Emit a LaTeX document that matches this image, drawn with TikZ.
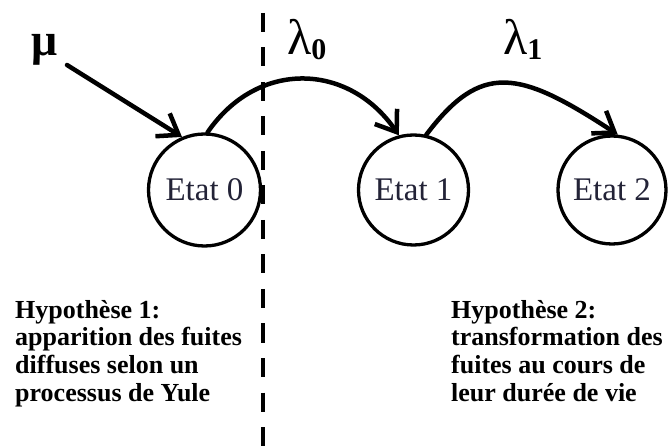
\documentclass[tikz,border=0pt]{standalone}
\usepackage{fontspec}
\setmainfont{Liberation Serif}
\usetikzlibrary{arrows.meta}
\definecolor{etat}{RGB}{35,35,55}
\begin{document}
\begin{tikzpicture}[x=1pt,y=-1pt,
  state/.style={circle,draw,line width=3.3pt,inner sep=0pt,
    font=\fontsize{33}{36}\selectfont,text=etat},
  arr/.style={line width=4.5pt,line cap=round,-{Straight Barb[length=19pt,width=27pt]}},
  hyp/.style={font=\bfseries\fontsize{26}{27.7}\selectfont,align=left,inner sep=0pt,anchor=base west},
  greek/.style={font=\fontsize{50}{50}\selectfont,inner sep=0pt,anchor=base west},
  sepline/.style={line width=4.5pt,dash pattern=on 19pt off 15.5pt}]
\useasboundingbox (0,0) rectangle (672,446);
\node[state,minimum size=112pt] (c0) at (204.5,190) {Etat 0};
\node[state,minimum size=110pt] (c1) at (413.5,190) {Etat 1};
\node[state,minimum size=108pt] (c2) at (612,190) {Etat 2};
\coordinate (m) at (67,65);
\coordinate (dt) at (263,13);
\coordinate (db) at (263,446);
\draw[arr] (m) -- (c0.113);
\draw[arr] (c0.87) .. controls +(50,-73) and +(-50,-73) .. (c1.105);
\draw[arr] (c1.77) .. controls +(55,-73) and +(-99,-65) .. (c2.84);
\draw[sepline] (dt) -- (db);
\node[font=\bfseries\fontsize{46}{46}\selectfont,inner sep=0pt,anchor=base] (mu) at (44.5,56) {μ};
\node[greek] (l0) at (287,55) {λ\raisebox{-5pt}{\fontsize{30}{30}\selectfont\bfseries 0}};
\node[greek] (l1) at (503,55) {λ\raisebox{-5pt}{\fontsize{30}{30}\selectfont\bfseries 1}};
\node[hyp] (h1) at (15,401.1) {Hypothèse 1:\\apparition des fuites\\diffuses selon un\\processus de Yule};
\node[hyp] (h2) at (451,401.1) {Hypothèse 2:\\transformation des\\fuites au cours de\\leur durée de vie};
\end{tikzpicture}
\end{document}
